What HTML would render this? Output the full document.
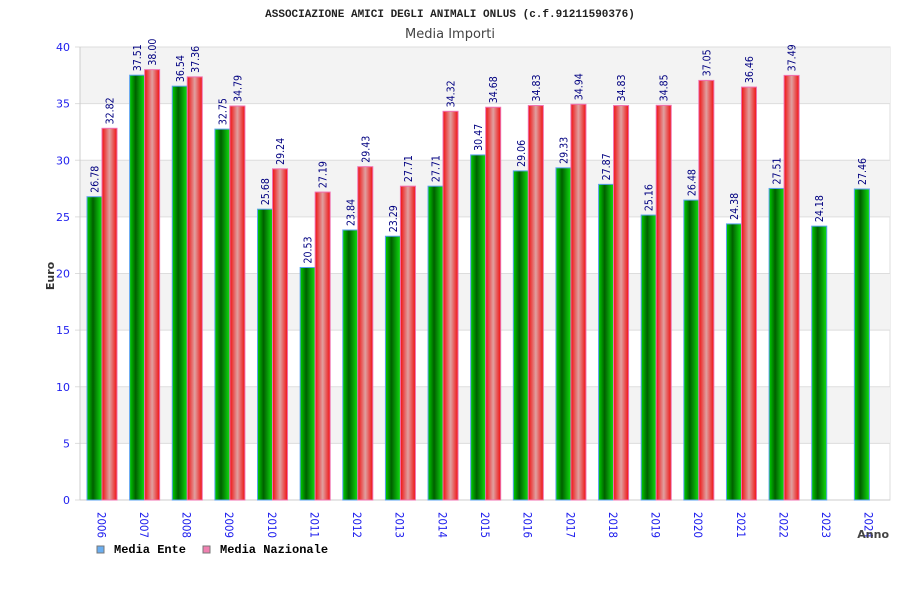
<!DOCTYPE html>
<html><head><meta charset="utf-8"><style>
body{margin:0;background:#fff;}
svg{display:block;}
</style></head><body>
<svg id="chart" width="900" height="600" xmlns="http://www.w3.org/2000/svg">
<defs>
<linearGradient id="gG" x1="0" x2="1" y1="0" y2="0">
<stop offset="0" stop-color="#00d000"/><stop offset="0.4" stop-color="#006000"/><stop offset="1" stop-color="#10e010"/>
</linearGradient>
<linearGradient id="gR" x1="0" x2="1" y1="0" y2="0">
<stop offset="0" stop-color="#f01010"/><stop offset="0.5" stop-color="#e0a0a0"/><stop offset="1" stop-color="#f01010"/>
</linearGradient>
</defs>
<text x="450" y="17" text-anchor="middle" font-family="Liberation Mono, monospace" font-weight="bold" font-size="11" fill="#222">ASSOCIAZIONE AMICI DEGLI ANIMALI ONLUS (c.f.91211590376)</text>
<text x="450" y="38" text-anchor="middle" font-family="DejaVu Sans, sans-serif" font-size="13" fill="#444">Media Importi</text>
<g id="bands"></g>
<g id="bars"></g>
<text transform="translate(54,276) rotate(-90)" text-anchor="middle" font-family="DejaVu Sans, sans-serif" font-weight="bold" font-size="11" fill="#333">Euro</text>
<text x="889" y="538" text-anchor="end" font-family="DejaVu Sans, sans-serif" font-weight="bold" font-size="11" fill="#444">Anno</text>
<g>
<rect x="97" y="546" width="7" height="7" fill="#6aaef0" stroke="#777"/>
<text x="114" y="553" font-family="Liberation Mono, monospace" font-weight="bold" font-size="12" fill="#000">Media Ente</text>
<rect x="203" y="546" width="7" height="7" fill="#f080b0" stroke="#777"/>
<text x="220" y="553" font-family="Liberation Mono, monospace" font-weight="bold" font-size="12" fill="#000">Media Nazionale</text>
</g>
</svg>
<script>
const years=["2006","2007","2008","2009","2010","2011","2012","2013","2014","2015","2016","2017","2018","2019","2020","2021","2022","2023","2024"];
const ente=[26.78,37.51,36.54,32.75,25.68,20.53,23.84,23.29,27.71,30.47,29.06,29.33,27.87,25.16,26.48,24.38,27.51,24.18,27.46];
const nazionale=[32.82,38.00,37.36,34.79,29.24,27.19,29.43,27.71,34.32,34.68,34.83,34.94,34.83,34.85,37.05,36.46,37.49,null,null];
const yTicks=[0,5,10,15,20,25,30,35,40];
const NS="http://www.w3.org/2000/svg";
const L=80,R=890,T=47,B=500,yMax=40;
const y=v=>B-(v/yMax)*(B-T);
const gw=(R-L)/years.length;
const x=i=>L+i*gw;
const bands=document.getElementById('bands');
const bars=document.getElementById('bars');
function mk(t,a,p){const e=document.createElementNS(NS,t);for(const k in a)e.setAttribute(k,a[k]);p.appendChild(e);return e;}
const bg=mk('rect',{x:L,y:T,width:R-L,height:B-T,fill:'#fff',stroke:'#ddd'},bands);


for(let k=0;k<yTicks.length-1;k++){
  if(k%2===1){
    const r=mk('rect',{x:L,y:y(yTicks[k+1]),width:R-L,height:y(yTicks[k])-y(yTicks[k+1]),fill:'#f3f3f3'},bands);
    
    
  }
}
yTicks.forEach(t=>{
  const g=mk('line',{x1:L-5,x2:R,y1:y(t),y2:y(t),stroke:'#ddd'},bands);
  
  
  const tx=mk('text',{x:L-10,y:y(t)+4,'text-anchor':'end','font-family':'DejaVu Sans, sans-serif','font-size':'11',fill:'#2020ee'},bands);
  tx.textContent=t;
  
  
});
mk('line',{x1:L,x2:L,y1:T,y2:B,stroke:'#ccc'},bands);
mk('line',{x1:L,x2:R,y1:B,y2:B,stroke:'#ccc'},bands);
function lbl(cx,v,name){
  const t=mk('text',{transform:`translate(${cx+4},${y(v)-4}) rotate(-90)`,'font-family':'DejaVu Sans, sans-serif','font-size':'10.5',fill:'#000080',textLength:'27',lengthAdjust:'spacingAndGlyphs'},bars);
  t.textContent=v.toFixed(2);
  
  
}
years.forEach((yr,i)=>{
  const x0=x(i)+7;
  if(ente[i]!=null){
    const b=mk('rect',{x:x0,y:y(ente[i]),width:15,height:B-y(ente[i]),fill:'url(#gG)',stroke:'#5aa0f0','stroke-width':1},bars);
    
    
    lbl(x0+7.5,ente[i],'value-label-ente-'+yr);
  }
  if(nazionale[i]!=null){
    const b=mk('rect',{x:x0+15,y:y(nazionale[i]),width:15,height:B-y(nazionale[i]),fill:'url(#gR)',stroke:'#f070b0','stroke-width':1},bars);
    
    
    lbl(x0+22.5,nazionale[i],'value-label-nazionale-'+yr);
  }
  const t=mk('text',{transform:`translate(${x(i)+gw/2-4},512) rotate(90)`,'font-family':'DejaVu Sans, sans-serif','font-size':'11.5',fill:'#2020ee',textLength:'26',lengthAdjust:'spacingAndGlyphs'},bars);
  t.textContent=yr;
  
  
});
</script>
</body></html>
